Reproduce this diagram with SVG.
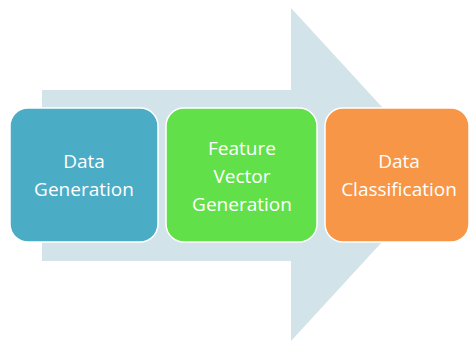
<svg xmlns="http://www.w3.org/2000/svg" width="469" height="343" viewBox="0 0 469 343">
<style>
.box{stroke:#ffffff;stroke-width:1.5}
.lbl{font-family:"Open Sans","Liberation Sans",sans-serif;font-size:19px;fill:#ffffff;text-anchor:middle}
</style>
<rect width="469" height="343" fill="#ffffff"/>
<g id="connectors">
<path d="M42,90 H291 V8 L444,174.5 L291,341 V261 H42 Z" fill="#D2E3EA"/>
</g>
<g id="node-data-generation">
<rect class="box" x="10" y="108" width="148" height="134" rx="18" fill="#4BACC6"/>
<text class="lbl" x="84" y="168">Data</text>
<text class="lbl" x="84" y="196">Generation</text>
</g>
<g id="node-feature-vector-generation">
<rect class="box" x="166" y="108" width="151" height="134" rx="18" fill="#62E04A"/>
<text class="lbl" x="242" y="155">Feature</text>
<text class="lbl" x="242" y="183">Vector</text>
<text class="lbl" x="242" y="211">Generation</text>
</g>
<g id="node-data-classification">
<rect class="box" x="325" y="108" width="144" height="134" rx="18" fill="#F79646"/>
<text class="lbl" x="399" y="168">Data</text>
<text class="lbl" x="399" y="196">Classification</text>
</g>
</svg>
